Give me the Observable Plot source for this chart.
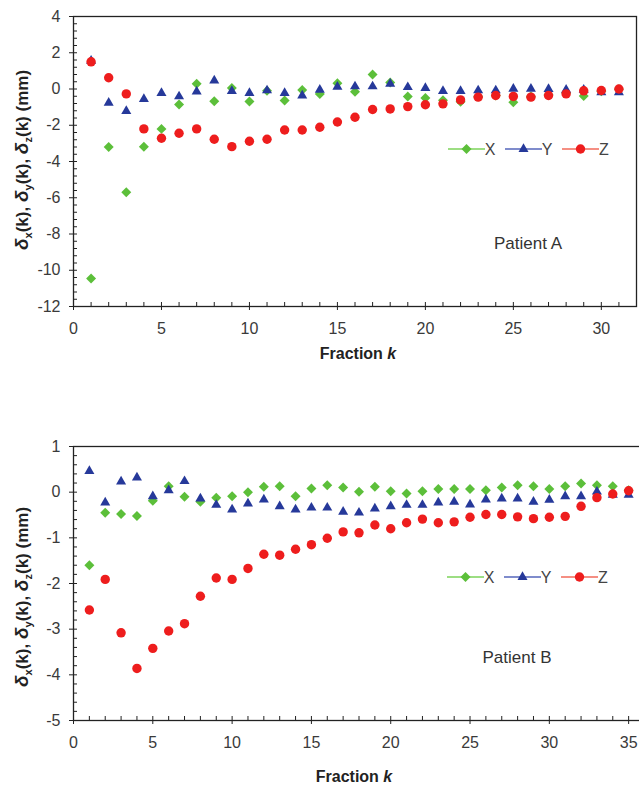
<!DOCTYPE html>
<html><head><meta charset="utf-8">
<script src="https://cdn.jsdelivr.net/npm/d3@7"></script>
<script src="https://cdn.jsdelivr.net/npm/@observablehq/plot@0.6"></script>
<style>
html,body{margin:0;padding:0;background:#fff;}
#wrap{width:639px;}
svg{display:block;}
</style>
</head><body><div id="wrap"></div>
<script>
// ---------- Patient A ----------
const kA = d3.range(1, 32);
const dxA = [-10.45, -3.2, -5.7, -3.18, -2.2, -0.85, 0.29, -0.67, 0.05, -0.69, -0.1, -0.64, -0.05, -0.27, 0.32, -0.15, 0.8, 0.36, -0.41, -0.49, -0.62, -0.7, -0.42, -0.36, -0.73, -0.42, -0.32, -0.22, -0.38, -0.12, -0.02];
const dyA = [1.55, -0.76, -1.22, -0.56, -0.23, -0.41, -0.14, 0.47, -0.12, -0.23, -0.08, -0.23, -0.36, -0.05, 0.12, 0.14, 0.14, 0.29, 0.1, 0.05, -0.12, -0.12, -0.08, -0.08, 0.01, 0.01, 0, -0.05, -0.05, -0.18, -0.18];
const dzA = [1.5, 0.62, -0.27, -2.2, -2.72, -2.44, -2.2, -2.77, -3.18, -2.88, -2.77, -2.26, -2.26, -2.11, -1.82, -1.56, -1.13, -1.1, -0.97, -0.87, -0.82, -0.6, -0.45, -0.36, -0.41, -0.45, -0.36, -0.27, -0.1, -0.08, 0.0];
const xTicksA = [0, 5, 10, 15, 20, 25, 30];
const yTicksA = [4, 2, 0, -2, -4, -6, -8, -10, -12];

// ---------- Patient B ----------
const kB = d3.range(1, 36);
const dxB = [-1.6, -0.45, -0.48, -0.52, -0.19, 0.13, -0.1, -0.21, -0.12, -0.09, 0.0, 0.12, 0.13, -0.09, 0.08, 0.15, 0.1, 0.01, 0.12, 0.02, -0.03, 0.02, 0.07, 0.07, 0.07, 0.04, 0.1, 0.15, 0.13, 0.07, 0.13, 0.19, 0.15, 0.13, 0.04];
const dyB = [0.46, -0.23, 0.23, 0.32, -0.09, 0.04, 0.24, -0.14, -0.28, -0.38, -0.25, -0.16, -0.31, -0.38, -0.34, -0.34, -0.43, -0.45, -0.36, -0.31, -0.28, -0.28, -0.23, -0.21, -0.27, -0.16, -0.14, -0.14, -0.21, -0.17, -0.09, -0.09, 0.01, -0.06, -0.06];
const dzB = [-2.58, -1.91, -3.08, -3.86, -3.42, -3.04, -2.88, -2.28, -1.88, -1.91, -1.67, -1.36, -1.38, -1.25, -1.15, -1.01, -0.87, -0.89, -0.72, -0.8, -0.67, -0.59, -0.67, -0.65, -0.55, -0.49, -0.49, -0.54, -0.58, -0.55, -0.53, -0.31, -0.12, -0.04, 0.03];
const xTicksB = [0, 5, 10, 15, 20, 25, 30, 35];
const yTicksB = [1, 0, -1, -2, -3, -4, -5];

const seriesNames = ["X", "Y", "Z"];
const colors = {X: "#5cbf3a", Y: "#26399a", Z: "#ee1d1d"};
const legendLine = {X: "#7dd35a", Y: "#5566bb", Z: "#f26a5a"};
const symbols = {X: "diamond2", Y: "triangle2", Z: "circle"};
const radii = {X: 4.5, Y: 4.8, Z: 4.7};

function rows(k, arrs) {
  const out = [];
  seriesNames.forEach((s, i) => k.forEach((kk, j) => out.push({k: kk, v: arrs[i][j], s})));
  return out;
}

const FONT = "'Liberation Sans', Arial, sans-serif";
const fmt = d => String(d);

function panel({data, xDomain, yDomain, xTicks, yTicks, xMinor, yMinor, height, margins, patient, patientPos, legendPos, ylabelY, xlabelPos}) {
  const marks = [
    Plot.frame({stroke: "#222", strokeWidth: 1.3}),
    Plot.axisX({ticks: xTicks, tickSize: 4, tickPadding: 12, fontSize: 16, fill: "#3a3a3a", stroke: "#222", tickFormat: fmt, label: null}),
    Plot.axisX({ticks: xMinor, tickSize: -4, text: null, stroke: "#222", label: null}),
    Plot.axisY({ticks: yTicks, tickSize: 4, tickPadding: 9, fontSize: 16, fill: "#3a3a3a", stroke: "#222", tickFormat: fmt, label: null}),
    Plot.axisY({ticks: yMinor, tickSize: -4, text: null, stroke: "#222", label: null})
  ];
  seriesNames.forEach(s => {
    marks.push(Plot.dot(data.filter(d => d.s === s), {x: "k", y: "v", symbol: symbols[s], fill: colors[s], r: radii[s]}));
  });
  const svg = Plot.plot({
    width: 639, height,
    marginLeft: margins[0], marginRight: margins[1], marginTop: margins[2], marginBottom: margins[3],
    style: {fontFamily: FONT, background: "#fff", overflow: "hidden"},
    x: {domain: xDomain},
    y: {domain: yDomain},
    marks
  });
  const g = d3.select(svg);
  // y label
  const yl = g.append("text")
    .attr("transform", `translate(28,${ylabelY}) rotate(-90)`)
    .attr("text-anchor", "middle")
    .attr("font-family", FONT).attr("font-weight", "bold").attr("font-size", 17).attr("fill", "#222");
  const parts = [["x", "(k), "], ["y", "(k), "], ["z", "(k) (mm)"]];
  parts.forEach(([sub, rest]) => {
    yl.append("tspan").attr("font-style", "italic").attr("font-size", 19).text("δ");
    yl.append("tspan").attr("font-size", 11).attr("dy", 4).text(sub);
    yl.append("tspan").attr("dy", -4).text(rest);
  });
  // x label
  const xl = g.append("text").attr("x", xlabelPos[0]).attr("y", xlabelPos[1])
    .attr("text-anchor", "middle").attr("font-family", FONT).attr("font-weight", "bold")
    .attr("font-size", 16).attr("fill", "#222");
  xl.append("tspan").text("Fraction ");
  xl.append("tspan").attr("font-style", "italic").text("k");
  // patient label
  g.append("text").attr("x", patientPos[0]).attr("y", patientPos[1]).attr("text-anchor", "middle")
    .attr("font-family", FONT).attr("font-size", 17).attr("fill", "#333").text(patient);
  // legend
  const [lx, ly] = legendPos;
  const step = [0, 57, 114];
  seriesNames.forEach((s, i) => {
    const x0 = lx + step[i];
    g.append("line").attr("x1", x0).attr("x2", x0 + 37).attr("y1", ly).attr("y2", ly)
      .attr("stroke", legendLine[s]).attr("stroke-width", 1.5);
    g.append("path").attr("transform", `translate(${x0 + 18.5},${ly})`)
      .attr("d", d3.symbol(s === "X" ? d3.symbolDiamond2 : s === "Y" ? d3.symbolTriangle2 : d3.symbolCircle, Math.PI * radii[s] * radii[s])())
      .attr("fill", colors[s]);
    g.append("text").attr("x", x0 + 42).attr("y", ly + 6).attr("font-family", FONT).attr("font-size", 16)
      .attr("fill", "#444").text(s);
  });
  return svg;
}

const wrap = document.getElementById("wrap");
wrap.appendChild(panel({
  data: rows(kA, [dxA, dyA, dzA]),
  xDomain: [0, 32], yDomain: [-12, 4],
  xTicks: xTicksA, yTicks: yTicksA,
  xMinor: d3.range(0, 33), yMinor: d3.range(-12, 4.01, 0.4),
  height: 400, margins: [73, 3, 16, 94],
  patient: "Patient A", patientPos: [528, 249],
  legendPos: [448, 149], ylabelY: 160, xlabelPos: [358, 359]
}));
wrap.appendChild(panel({
  data: rows(kB, [dxB, dyB, dzB]),
  xDomain: [0, 36], yDomain: [-5, 1],
  xTicks: xTicksB, yTicks: yTicksB,
  xMinor: d3.range(0, 37), yMinor: d3.range(-5, 1.01, 0.2),
  height: 392, margins: [73, -5, 46, 72],
  patient: "Patient B", patientPos: [517, 263],
  legendPos: [447, 177], ylabelY: 197, xlabelPos: [354, 382]
}));
</script>
</body></html>
